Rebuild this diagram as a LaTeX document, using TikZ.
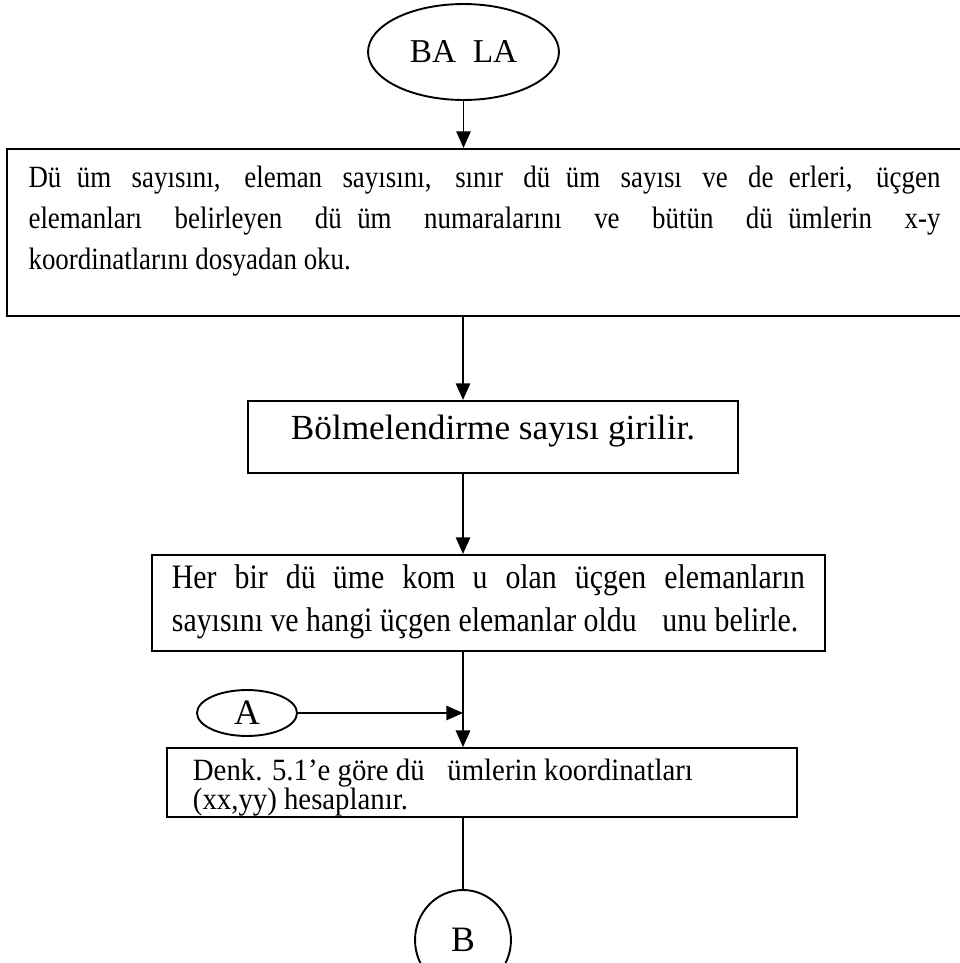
\documentclass[tikz,border=0pt]{standalone}
\usepackage{fontspec}
\setmainfont{Liberation Serif}[FakeStretch=0.87]
\newfontfamily\plainfont{Liberation Serif}
\newfontfamily\midfont{Liberation Serif}[FakeStretch=0.93]
\usetikzlibrary{arrows.meta, shapes.geometric}
\newcommand{\bos}{\hspace{0.5em}}

\begin{document}
\begin{tikzpicture}[
      x=0.42pt, y=-0.42pt,
      line width=0.8pt,
      box/.style={draw, rectangle, inner sep=0pt, font={\fontsize{14}{17.2}\selectfont}},
      term/.style={draw, ellipse, inner sep=0pt, font={\plainfont\fontsize{15}{17}\selectfont}},
      arr/.style={-{Triangle[length=7pt, width=6pt]}}
    ]
    \useasboundingbox (0,0) rectangle (960,963);
    \node[term, minimum width=80.2pt, minimum height=40.3pt, font={\plainfont\fontsize{14}{16}\selectfont}] (start) at (463.5,52) {BA\bos LA};
    \node[box, minimum width=401.1pt, text width=383pt, text height=16.4pt, text depth=53.8pt, align=justify, font={\fontsize{13}{17.2}\selectfont}] (read) at (484.5,232.5)
      {Dü\bos üm sayısını, eleman sayısını, sınır dü\bos üm sayısı ve de\bos erleri, üçgen\linebreak
       elemanları belirleyen dü\bos üm numaralarını ve bütün dü\bos ümlerin x-y\linebreak
       koordinatlarını dosyadan oku.};
    \node[box, minimum width=205.8pt, text height=16.4pt, text depth=13.9pt, font={\plainfont\fontsize{14.8}{16}\selectfont}] (count) at (493,437) {Bölmelendirme sayısı girilir.};
    \node[box, minimum width=282.7pt, text width=265.9pt, text height=14.3pt, text depth=26.1pt, align=justify, font={\fontsize{14.4}{18}\selectfont}] (neigh) at (488.5,603)
      {Her bir dü\bos üme kom\bos u olan üçgen elemanların\linebreak
       sayısını ve hangi üçgen elemanlar oldu\hspace{0.75em}unu belirle.};
    \node[box, minimum width=264.6pt, text width=242.8pt, text height=13.6pt, text depth=15.3pt, align=flush left, font={\midfont\fontsize{13}{12.2}\selectfont}] (coord) at (482,782.5)
      {Denk. 5.1’e göre dü\bos{} ümlerin koordinatları\\(xx,yy) hesaplanır.};
    \node[term, minimum width=42pt, minimum height=19.3pt] (conA) at (247,713) {A};
    \node[term, minimum width=40.3pt, minimum height=42pt] (conB) at (463,940) {B};
    \coordinate (join) at (463,713);

    \draw[arr] (start.south) -- (start.south |- read.north);
    \draw[arr] (join |- read.south) -- (join |- count.north);
    \draw[arr] (join |- count.south) -- (join |- neigh.north);
    \draw[arr] (join |- neigh.south) -- (join |- coord.north);
    \draw[arr] (conA) -- (join);
    \draw (join |- coord.south) -- (conB);
  \end{tikzpicture}
\end{document}
